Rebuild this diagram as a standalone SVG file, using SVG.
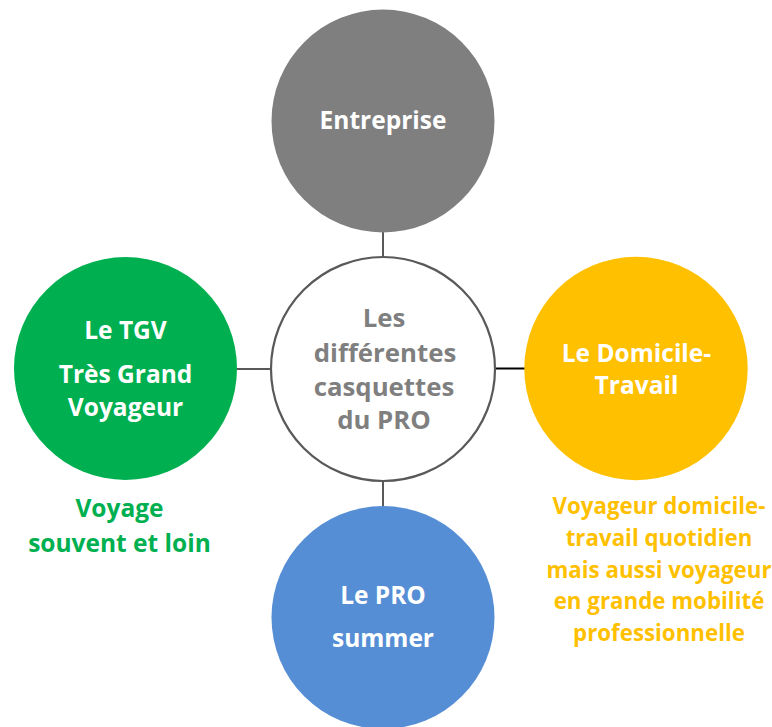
<svg xmlns="http://www.w3.org/2000/svg" width="772" height="727" viewBox="0 0 772 727">
  <style>
    text { font-family: "Open Sans", "Liberation Sans", sans-serif; font-weight: 700; text-anchor: middle; }
    .in { fill: #ffffff; font-size: 24.5px; }
    .hub { fill: #7f7f7f; font-size: 25.8px; }
    .note-green { fill: #00b050; font-size: 24.5px; }
    .note-gold { fill: #ffc000; font-size: 22.3px; }
    .link { stroke: #595959; stroke-width: 2; fill: none; }
    .link-dark { stroke: #000000; stroke-width: 2; fill: none; }
  </style>

  <!-- connectors between the hub and the four satellites -->
  <g id="connectors">
    <line class="link" x1="383" y1="232" x2="383" y2="257"/>
    <line class="link" x1="237" y1="369" x2="271" y2="369"/>
    <line class="link-dark" x1="495" y1="368.5" x2="525" y2="368.5"/>
    <line class="link" x1="383" y1="481" x2="383" y2="506"/>
  </g>

  <g id="node-entreprise">
    <circle cx="383" cy="121" r="111.5" fill="#7f7f7f"/>
    <text class="in" x="383" y="129">Entreprise</text>
  </g>

  <g id="node-hub">
    <circle cx="383" cy="369" r="112" fill="#ffffff" stroke="#595959" stroke-width="2.2"/>
    <text class="hub" x="384" y="327">Les</text>
    <text class="hub" x="385" y="361.5">différentes</text>
    <text class="hub" x="384" y="395.5">casquettes</text>
    <text class="hub" x="384" y="429">du PRO</text>
  </g>

  <g id="node-tgv">
    <circle cx="125.5" cy="368.5" r="111.5" fill="#00b050"/>
    <text class="in" x="125.5" y="339">Le TGV</text>
    <text class="in" x="125.5" y="383">Très Grand</text>
    <text class="in" x="125.5" y="416">Voyageur</text>
    <text class="note-green" x="119.5" y="517">Voyage</text>
    <text class="note-green" x="119.5" y="552">souvent et loin</text>
  </g>

  <g id="node-domicile-travail">
    <circle cx="636" cy="368.5" r="111.7" fill="#ffc000"/>
    <text class="in" x="636.5" y="362">Le Domicile-</text>
    <text class="in" x="636.5" y="394">Travail</text>
    <text class="note-gold" x="659" y="514">Voyageur domicile-</text>
    <text class="note-gold" x="659" y="546">travail quotidien</text>
    <text class="note-gold" x="659" y="577.5">mais aussi voyageur</text>
    <text class="note-gold" x="659" y="609">en grande mobilité</text>
    <text class="note-gold" x="659" y="640.5">professionnelle</text>
  </g>

  <g id="node-pro-summer">
    <circle cx="383" cy="617.5" r="111.5" fill="#558ed5"/>
    <text class="in" x="383" y="604">Le PRO</text>
    <text class="in" x="383" y="647">summer</text>
  </g>
</svg>
